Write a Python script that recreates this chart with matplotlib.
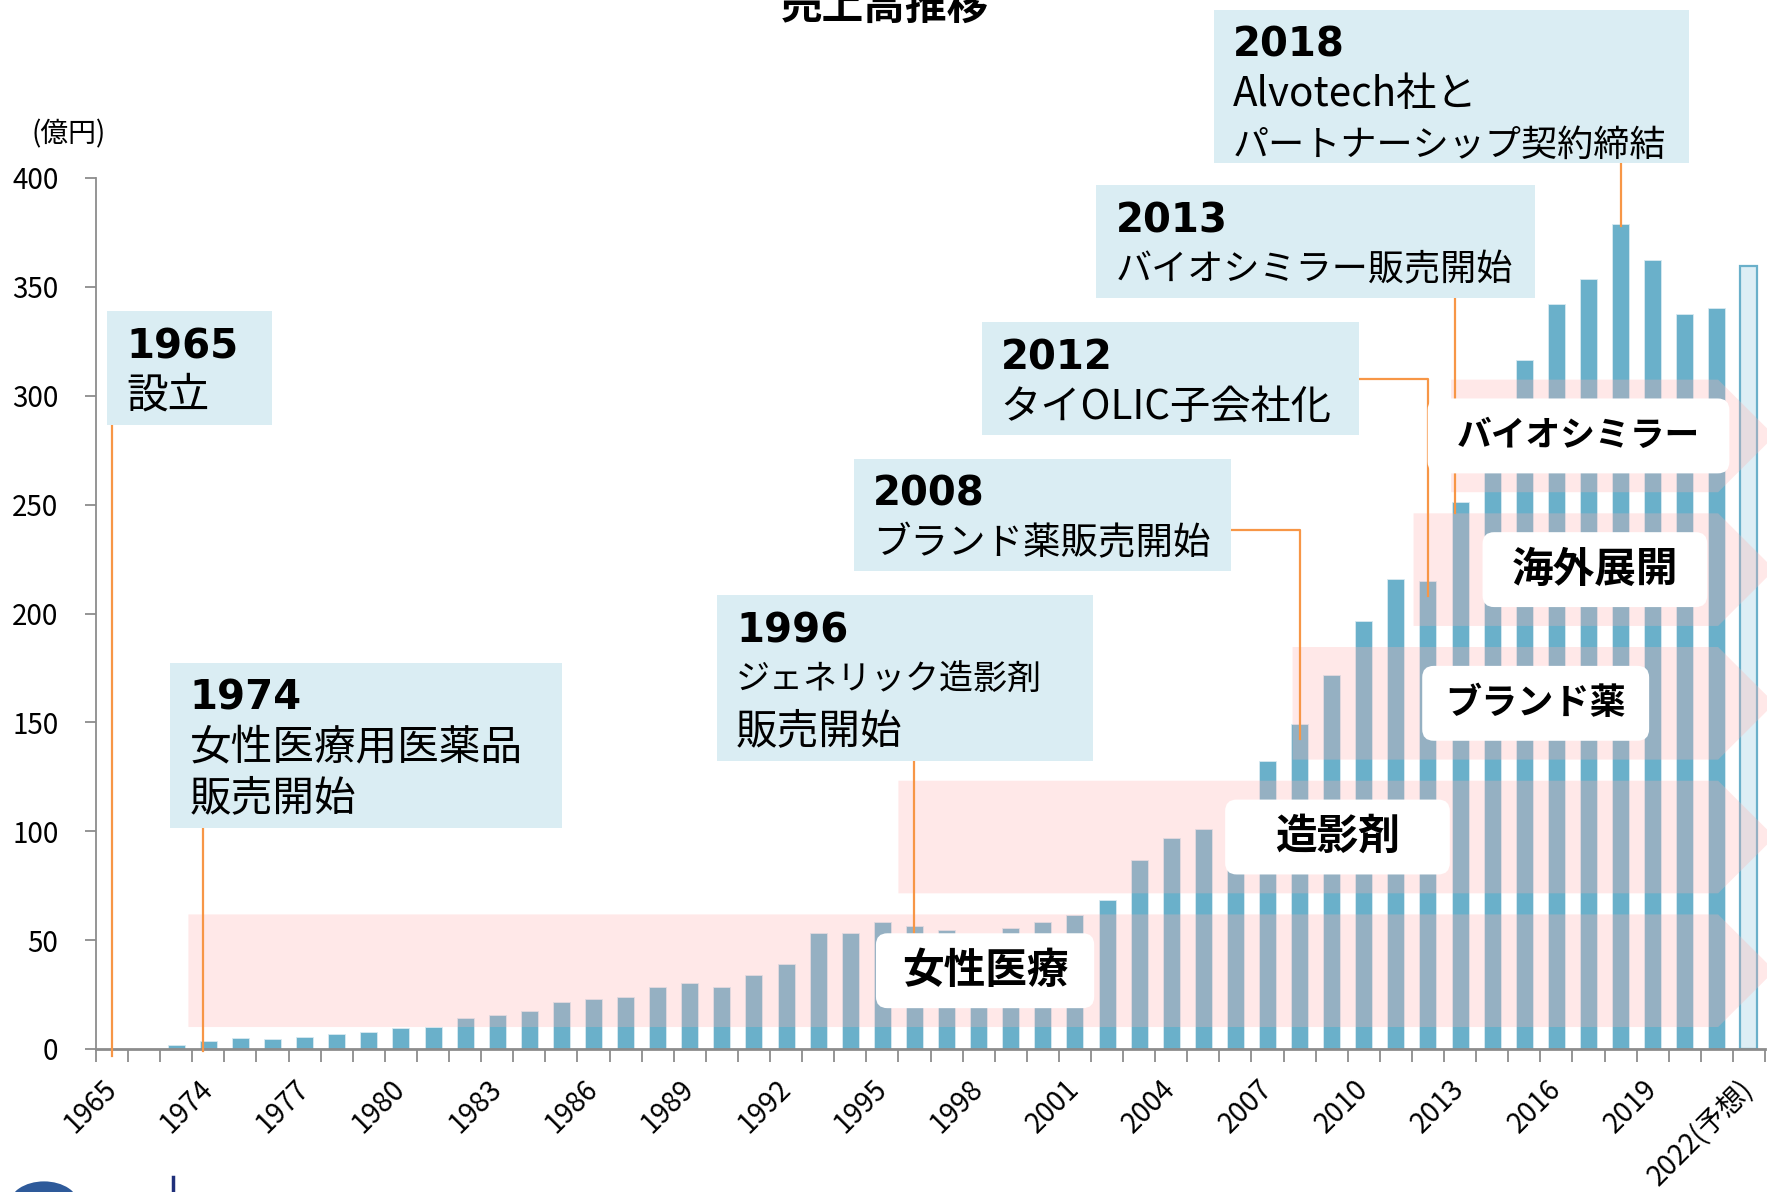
import matplotlib.pyplot as plt
from matplotlib.patches import Rectangle, Polygon, FancyBboxPatch, Circle

plt.rcParams['font.family'] = ['DejaVu Sans', 'Noto Sans CJK JP']
JP = ['Noto Sans CJK JP', 'DejaVu Sans']

# ---- data (億円) ----
years = ['1965'] + [str(y) for y in range(1972, 2022)] + ['2022(予想)']
sales = [0, 0, 1.8, 3.5, 4.9, 4.6, 5.3, 7.0, 8.0, 9.5,
         10.2, 14.1, 15.5, 17.4, 21.8, 23.1, 24.0, 28.5, 30.5, 28.5,
         34.2, 38.9, 53.2, 53.2, 58.5, 56.5, 54.8, 50.0, 55.6, 58.5,
         61.5, 68.4, 86.7, 96.9, 101.0, 110.0, 132.2, 149.1, 171.8, 196.7,
         216.0, 214.9, 251.4, 280.0, 316.3, 342.0, 353.6, 378.9, 362.5, 337.6,
         340.2]
forecast = 359.6

# business segments (arrow bands)
seg_names = ['女性医療', '造影剤', 'ブランド薬', '海外展開', 'バイオシミラー']
seg_start = [2.38, 24.5, 36.78, 40.55, 41.72]

# milestones
ev_years = ['1965', '1974', '1996', '2008', '2012', '2013', '2018']
ev_text = [['設立'],
           ['女性医療用医薬品', '販売開始'],
           ['ジェネリック造影剤', '販売開始'],
           ['ブランド薬販売開始'],
           ['タイOLIC子会社化'],
           ['バイオシミラー販売開始'],
           ['Alvotech社と', 'パートナーシップ契約締結']]

W, H = 1767, 1192
fig = plt.figure(figsize=(W / 100, H / 100), dpi=100)
ax = fig.add_axes([96 / W, 143 / H, 1669 / W, 871 / H])
n = len(years)
ax.set_xlim(-0.5, n - 0.5)
ax.set_ylim(0, 400)
aspect = (1669 / n) / (871 / 400)

x = list(range(n))
ax.bar(x[:-1], sales, width=0.53, color='#6AB0CA', edgecolor='#D8EAF1',
       linewidth=0.6, zorder=2)
ax.bar(x[-1], forecast, width=0.53, color='#DDEEF5', edgecolor='#6AB0CA',
       linewidth=1.6, zorder=2)

# bands with arrow heads
band_h = 51.7
band_gap = 61.4
rect_end = 50.04
tip = 51.8
box_w = [6.8, 7.0, 7.07, 7.0, 9.4]
box_x = [23.8, 34.68, 40.82, 42.7, 40.99]
seg_fs = [30, 30, 26, 30, 25]
for i, name in enumerate(seg_names):
    y0 = 10.1 + i * band_gap
    y1 = y0 + band_h
    ym = (y0 + y1) / 2
    ax.add_patch(Polygon([(seg_start[i], y0), (rect_end, y0), (tip, ym),
                          (rect_end, y1), (seg_start[i], y1)],
                         closed=True, facecolor='#FFB0B0', alpha=0.29,
                         edgecolor='none', zorder=3, clip_on=False))
    bh = 34.4
    ax.add_patch(FancyBboxPatch((box_x[i], ym - bh / 2), box_w[i], bh,
                                boxstyle='round,pad=0,rounding_size=0.36',
                                mutation_aspect=aspect, facecolor='white',
                                edgecolor='none', zorder=6))
    ax.text(box_x[i] + box_w[i] / 2, ym, name, family=JP, fontsize=seg_fs[i],
            fontweight='bold', ha='center', va='center', zorder=7)

# milestone boxes (x0, x1, top, bottom)
ev_box = [(-0.15, 4.98, 338.8, 286.6),
          (1.82, 14.02, 177.4, 101.3),
          (18.84, 30.57, 208.3, 132.1),
          (23.12, 34.85, 271.1, 219.3),
          (27.09, 38.85, 333.7, 282.0),
          (30.67, 44.33, 396.6, 344.9),
          (34.33, 49.13, 477.2, 406.7)]
ev_fs = [[30], [30, 30], [24.5, 30], [27], [29], [26], [29, 26]]
for yr, lines, (x0, x1, yt, yb), fss in zip(ev_years, ev_text, ev_box, ev_fs):
    ax.add_patch(Rectangle((x0, yb), x1 - x0, yt - yb, facecolor='#DAEDF3',
                           edgecolor='none', zorder=5, clip_on=False))
    ax.text(x0 + 0.6, yt - 21.6, yr, fontsize=29, fontweight='bold',
            ha='left', va='baseline', zorder=7, clip_on=False)
    for k, (ln, fs) in enumerate(zip(lines, fss)):
        ax.text(x0 + 0.6, yt - 39.0 - k * 23.5, ln, family=JP, fontsize=fs,
                ha='left', va='center', zorder=7, clip_on=False)

# leader lines
orange = '#F79646'
leaders = [([0, 0], [286.6, -3]),
           ([2.84, 2.84], [101.3, -1]),
           ([25, 25], [132.1, 53]),
           ([34.85, 37, 37], [238.5, 238.5, 142.5]),
           ([38.85, 41, 41], [307.5, 307.5, 208]),
           ([41.85, 41.85], [344.9, 246]),
           ([47, 47], [406.7, 378])]
for lx, ly in leaders:
    ax.plot(lx, ly, color=orange, lw=1.6, zorder=4, clip_on=False)

# axes styling
for s in ['top', 'right']:
    ax.spines[s].set_visible(False)
ax.spines['left'].set_color('#8C8C8C')
ax.spines['left'].set_linewidth(1.3)
ax.spines['bottom'].set_color('#8C8C8C')
ax.spines['bottom'].set_linewidth(2)
ax.set_yticks(range(0, 401, 50))
ax.set_yticklabels([str(v) for v in range(0, 401, 50)], family=JP, fontsize=20)
ax.tick_params(axis='y', length=8, width=1.3, color='#8C8C8C', pad=19)
ax.set_xticks([i - 0.5 for i in range(n + 1)], minor=True)
ax.set_xticks(x[::3])
ax.set_xticklabels(years[::3], family=JP, fontsize=20, rotation=45,
                   ha='right', va='center', rotation_mode='anchor')
ax.tick_params(axis='x', which='major', length=0, pad=26)
ax.tick_params(axis='x', which='minor', length=9, width=1.3, color='#8C8C8C')

fig.text(69 / W, 1 - 134 / H, '(億円)', family=JP, fontsize=20,
         ha='center', va='center')
fig.text(885 / W, 1 - 28 / H, '売上高推移', family=JP, fontsize=30,
         fontweight='bold', ha='center', va='bottom')

# logo fragment at bottom left
fig.patches.append(Circle((44 / W, 1 - 1205 / H), 35 / W, transform=fig.transFigure,
                          facecolor='#2E5A9A', edgecolor='none'))
fig.add_artist(plt.Line2D([173 / W, 173 / W], [0, 15 / H], color='#1F2F7A', lw=2.5))

fig.savefig('out.png', dpi=100)
